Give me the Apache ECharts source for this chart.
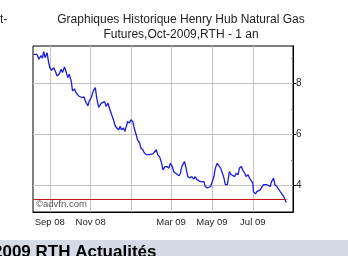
<!DOCTYPE html>
<html><head><meta charset="utf-8">
<script src="https://cdn.jsdelivr.net/npm/echarts@6/dist/echarts.min.js"></script>
<style>html,body{margin:0;padding:0;background:#fff;overflow:hidden}#c{width:348px;height:256px}</style>
</head><body><div id="c"></div>
<script>
const dates = [
'2008-08-08','2008-08-10','2008-08-13','2008-08-16','2008-08-19','2008-08-21','2008-08-23','2008-08-25','2008-08-28','2008-08-30',
'2008-09-01','2008-09-04','2008-09-07','2008-09-10','2008-09-12','2008-09-15','2008-09-18','2008-09-20','2008-09-23','2008-09-25',
'2008-09-28','2008-09-30','2008-10-03','2008-10-05','2008-10-08','2008-10-10','2008-10-14','2008-10-16','2008-10-19','2008-10-22',
'2008-10-25','2008-10-28','2008-10-30','2008-11-02','2008-11-05','2008-11-08','2008-11-10','2008-11-13','2008-11-15','2008-11-17',
'2008-11-19','2008-11-22','2008-11-24','2008-11-27','2008-11-29','2008-12-01','2008-12-05','2008-12-07','2008-12-10','2008-12-13',
'2008-12-15','2008-12-17','2008-12-20','2008-12-22','2008-12-25','2008-12-26','2008-12-29','2008-12-31','2009-01-03','2009-01-05',
'2009-01-08','2009-01-10','2009-01-13','2009-01-15','2009-01-18','2009-01-20','2009-01-23','2009-01-25','2009-01-28','2009-01-30',
'2009-02-02','2009-02-04','2009-02-07','2009-02-09','2009-02-12','2009-02-15','2009-02-17','2009-02-20','2009-02-23','2009-02-26',
'2009-02-28','2009-03-03','2009-03-05','2009-03-08','2009-03-10','2009-03-13','2009-03-15','2009-03-17','2009-03-21','2009-03-23',
'2009-03-26','2009-03-29','2009-04-01','2009-04-04','2009-04-06','2009-04-09','2009-04-11','2009-04-14','2009-04-16','2009-04-19',
'2009-04-21','2009-04-24','2009-04-26','2009-04-29','2009-05-01','2009-05-04','2009-05-06','2009-05-09','2009-05-11','2009-05-14',
'2009-05-16','2009-05-19','2009-05-21','2009-05-24','2009-05-26','2009-05-27','2009-05-30','2009-06-01','2009-06-04','2009-06-06',
'2009-06-09','2009-06-11','2009-06-14','2009-06-16','2009-06-19','2009-06-21','2009-06-24','2009-06-26','2009-06-28','2009-07-01',
'2009-07-02','2009-07-05','2009-07-07','2009-07-09','2009-07-12','2009-07-14','2009-07-17','2009-07-19','2009-07-22','2009-07-24',
'2009-07-27','2009-07-29','2009-08-01','2009-08-03','2009-08-06','2009-08-08','2009-08-11','2009-08-13','2009-08-16','2009-08-18',
'2009-08-20'
];
const prices = [
9.15,9.22,9.15,8.96,9.11,9.00,9.26,9.02,9.22,8.89,
8.63,8.53,8.63,8.44,8.30,8.37,8.57,8.44,8.66,8.50,
8.24,8.37,8.11,7.72,7.79,7.66,7.52,7.59,7.46,7.48,
7.27,7.13,7.33,7.46,7.72,7.85,7.46,7.07,7.16,7.24,
7.17,7.30,7.11,7.24,7.04,7.02,6.59,6.39,6.26,6.20,
6.33,6.20,6.26,6.13,6.39,6.52,6.46,6.59,6.52,6.26,
6.00,5.80,5.68,5.48,5.41,5.29,5.22,5.16,5.22,5.16,
5.25,5.29,5.41,5.22,5.13,4.88,4.62,4.75,4.75,4.69,
4.88,4.75,4.55,4.49,4.55,4.39,4.49,4.75,4.95,4.75,
4.36,4.30,4.36,4.26,4.36,4.23,4.30,4.16,4.23,4.16,
3.97,3.91,3.87,3.97,4.04,4.36,4.69,4.88,4.82,4.69,
4.55,4.30,4.04,4.04,4.36,4.55,4.43,4.49,4.36,4.49,
4.43,4.69,4.75,4.62,4.49,4.36,4.43,4.30,4.23,4.10,
3.77,3.68,3.77,3.71,3.84,3.91,4.04,4.10,4.04,4.10,
3.97,4.16,4.30,4.04,3.97,3.91,3.77,3.71,3.58,3.52,
3.34
];
const xTickDates = ['2008-09-01','2008-11-01','2009-01-01','2009-03-01','2009-05-01','2009-07-01'];
const xLabelDates = ['2008-09-01','2008-11-01','2009-03-01','2009-05-01','2009-07-01'];
const monthNames = ['Jan','Feb','Mar','Apr','May','Jun','Jul','Aug','Sep','Oct','Nov','Dec'];
const xRange = ['2008-08-07','2009-08-30'];
const yRange = [2.97, 9.48];
const yLabelValues = [4, 6, 8];
const yMinorValues = [5, 7, 9];
const refLevel = 3.48;
const titleLines = ['Graphiques Historique Henry Hub Natural Gas', 'Futures,Oct-2009,RTH - 1 an'];
const watermark = '\u00a9advfn.com';
const leftFragment = 't-';
const footerText = '2009 RTH Actualit\u00e9s';

const t = s => new Date(s + 'T00:00:00').getTime();
const seriesData = dates.map((d, i) => [t(d), prices[i]]);
const FONT = 'Liberation Sans, Arial, sans-serif';

const chart = echarts.init(document.getElementById('c'), null, {renderer: 'canvas'});
chart.setOption({
  animation: false,
  backgroundColor: '#ffffff',
  grid: {left: 33, right: 55, top: 46, bottom: 44, show: true, borderColor: '#000', borderWidth: 1, backgroundColor: '#fff'},
  xAxis: {
    type: 'value', min: t(xRange[0]), max: t(xRange[1]),
    axisLine: {show: true, lineStyle: {color: '#000', width: 1}},
    axisTick: {show: false, customValues: xTickDates.map(t)},
    splitLine: {show: true, lineStyle: {color: '#c4c4c4', width: 1}},
    axisLabel: {
      customValues: xLabelDates.map(t), color: '#222', fontSize: 9.5, fontFamily: FONT, margin: 5,
      formatter: v => { const d = new Date(v); return monthNames[d.getMonth()] + ' ' + String(d.getFullYear() % 100).padStart(2, '0'); }
    }
  },
  yAxis: [{
    type: 'value', position: 'right', min: yRange[0], max: yRange[1],
    axisLine: {show: true, lineStyle: {color: '#000'}},
    axisTick: {show: true, inside: true, length: 2, customValues: yMinorValues, lineStyle: {color: '#888'}},
    axisLabel: {show: false},
    splitLine: {show: false}
  }, {
    type: 'value', position: 'right', min: yRange[0], max: yRange[1],
    axisLine: {show: true, lineStyle: {color: '#000'}},
    axisTick: {show: true, length: 3, customValues: yLabelValues, lineStyle: {color: '#000'}},
    axisLabel: {customValues: yLabelValues, color: '#222', fontSize: 10, fontFamily: FONT, margin: 3},
    splitLine: {show: true, lineStyle: {color: '#c4c4c4', width: 1}}
  }],
  series: [{
    type: 'line', data: seriesData, yAxisIndex: 0, showSymbol: false, symbol: 'none',
    lineStyle: {color: '#1c1cdc', width: 1.3}, z: 3,
    markLine: {
      silent: true, symbol: 'none', animation: false, label: {show: false},
      lineStyle: {color: '#c81414', width: 1, type: 'solid'},
      data: [[{coord: [t(dates[0]), refLevel]}, {coord: [t(dates[dates.length - 1]), refLevel]}]]
    }
  }],
  graphic: [
    {type: 'text', x: 181, y: 20, style: {text: titleLines[0], font: '12px ' + FONT, fill: '#222', textAlign: 'center', textVerticalAlign: 'middle'}},
    {type: 'text', x: 181, y: 35, style: {text: titleLines[1], font: '12px ' + FONT, fill: '#222', textAlign: 'center', textVerticalAlign: 'middle'}},
    {type: 'text', x: 0, y: 20, style: {text: leftFragment, font: '12px ' + FONT, fill: '#222', textAlign: 'left', textVerticalAlign: 'middle'}},
    {type: 'text', x: 36, y: 204, z: 10, style: {text: watermark, font: '9.5px ' + FONT, fill: '#555', textAlign: 'left', textVerticalAlign: 'middle'}},
    {type: 'rect', shape: {x: 0, y: 240, width: 348, height: 16}, style: {fill: '#d4dae6'}, z: 0},
    {type: 'text', x: -7, y: 261, z: 5, style: {text: footerText, font: 'bold 17px ' + FONT, fill: '#000', textAlign: 'left', textVerticalAlign: 'bottom'}}
  ]
});
</script>
</body></html>
